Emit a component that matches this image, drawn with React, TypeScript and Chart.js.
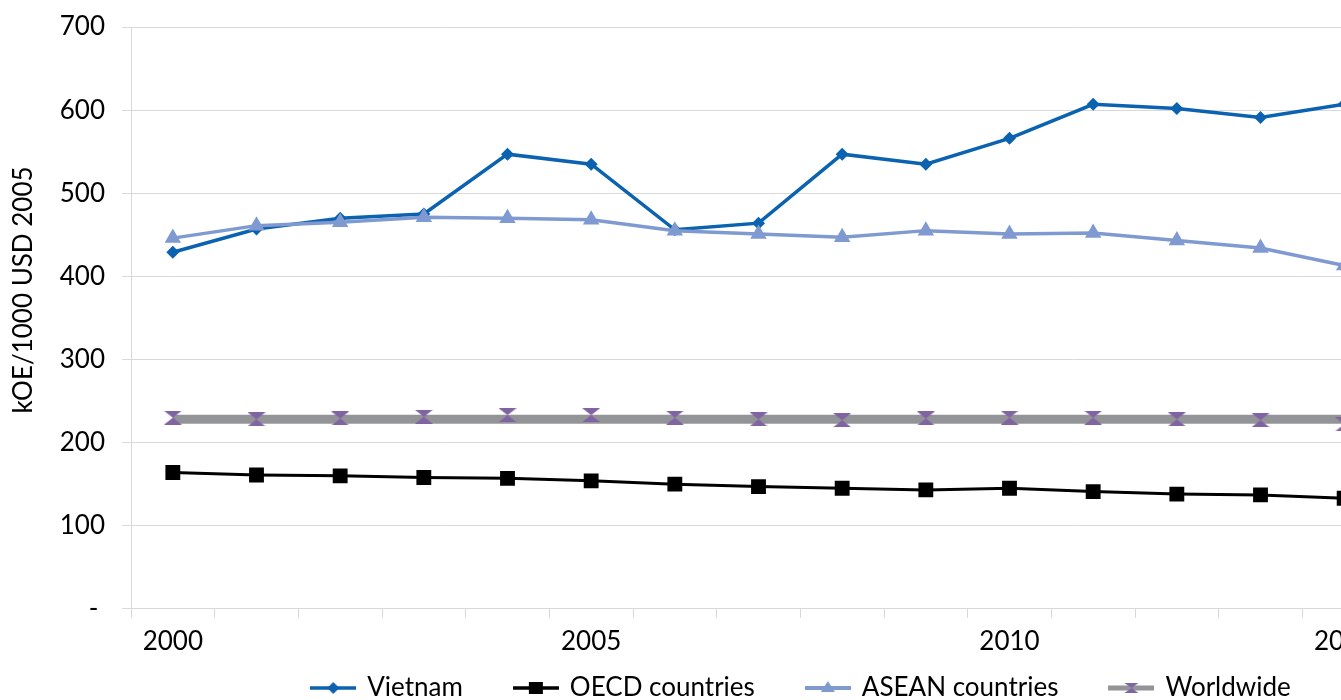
import React, { useEffect, useRef } from "react";
import { Chart, registerables } from "chart.js";

Chart.register(...registerables);

const years = ["2000","2001","2002","2003","2004","2005","2006","2007","2008","2009","2010","2011","2012","2013","2014"];
const xTickLabels = ["2000","","","","","2005","","","","","2010","","","","2014"];
const yTickValues = [0, 100, 200, 300, 400, 500, 600, 700];

const vietnam = [429, 457, 470, 475, 547, 535, 456, 464, 547, 535, 566, 607, 602, 591, 607];
const oecd = [164, 161, 160, 158, 157, 154, 150, 147, 145, 143, 145, 141, 138, 137, 133];
const asean = [446, 461, 465, 471, 470, 468, 455, 451, 447, 455, 451, 452, 443, 434, 413];
const worldwideLine = [228, 228, 228, 228, 228, 228, 228, 228, 228, 228, 228, 228, 228, 228, 228];
const worldwideMarkers = [230, 228, 229, 231, 233, 233, 230, 228, 227, 229, 230, 230, 228, 227, 222];

const seriesNames = ["Vietnam", "OECD countries", "ASEAN countries", "Worldwide"];
const yTitle = "kOE/1000 USD 2005";

const C_VN = "#0B62B0";
const C_OECD = "#000000";
const C_ASEAN = "#7F9AD0";
const C_WW = "#939498";
const C_WWM = "#8064A2";
const GRID = "#D9D9D9";
const FONT = "Lato";

function makeHourglass(w: number, h: number, color: string) {
  const c = document.createElement("canvas");
  c.width = w;
  c.height = h;
  const x = c.getContext("2d")!;
  x.fillStyle = color;
  x.beginPath();
  x.moveTo(0, 0);
  x.lineTo(w, 0);
  x.lineTo(w / 2, h / 2);
  x.closePath();
  x.fill();
  x.beginPath();
  x.moveTo(w / 2, h / 2);
  x.lineTo(0, h);
  x.lineTo(w, h);
  x.closePath();
  x.fill();
  return c;
}

function makeLegendIcon(kind: string) {
  const w = 46, h = 20;
  const c = document.createElement("canvas");
  c.width = w;
  c.height = h;
  const x = c.getContext("2d")!;
  const cy = h / 2;
  const cx = w / 2;
  if (kind === "vn") {
    x.strokeStyle = C_VN; x.lineWidth = 3.5;
    x.beginPath(); x.moveTo(0, cy); x.lineTo(w, cy); x.stroke();
    x.fillStyle = C_VN;
    x.beginPath(); x.moveTo(cx, cy - 6); x.lineTo(cx + 6, cy); x.lineTo(cx, cy + 6); x.lineTo(cx - 6, cy); x.closePath(); x.fill();
  } else if (kind === "oecd") {
    x.strokeStyle = C_OECD; x.lineWidth = 3.5;
    x.beginPath(); x.moveTo(0, cy); x.lineTo(w, cy); x.stroke();
    x.fillStyle = C_OECD;
    x.fillRect(cx - 7, cy - 6, 14, 12);
  } else if (kind === "asean") {
    x.strokeStyle = C_ASEAN; x.lineWidth = 4;
    x.beginPath(); x.moveTo(0, cy); x.lineTo(w, cy); x.stroke();
    x.fillStyle = C_ASEAN;
    x.beginPath(); x.moveTo(cx, cy - 7); x.lineTo(cx + 7, cy + 4); x.lineTo(cx - 7, cy + 4); x.closePath(); x.fill();
  } else {
    x.strokeStyle = C_WW; x.lineWidth = 5;
    x.beginPath(); x.moveTo(0, cy); x.lineTo(w, cy); x.stroke();
    const hg = makeHourglass(14, 10, C_WWM);
    x.drawImage(hg, cx - 7, cy - 5);
  }
  return c;
}

export default function App() {
  const ref = useRef<HTMLCanvasElement | null>(null);

  useEffect(() => {
    let chart: Chart | null = null;
    let cancelled = false;
    const build = () => {
      if (cancelled || !ref.current) return;
      const hourglass = makeHourglass(18, 14, C_WWM);
      const icons = [makeLegendIcon("vn"), makeLegendIcon("oecd"), makeLegendIcon("asean"), makeLegendIcon("ww")];

      const yTitlePlugin = {
        id: "yTitlePlugin",
        afterDraw(ch: any) {
          const ctx = ch.ctx;
          ctx.save();
          ctx.translate(24, 290);
          ctx.rotate(-Math.PI / 2);
          ctx.font = `26px ${FONT}`;
          ctx.fillStyle = "#000";
          ctx.textAlign = "center";
          ctx.textBaseline = "middle";
          ctx.fillText(yTitle, 0, 0);
          ctx.restore();
        },
      };

      const legendShiftPlugin = {
        id: "legendShiftPlugin",
        afterLayout(ch: any) {
          if (ch.legend) {
            ch.legend.top -= 42;
            ch.legend.bottom -= 42;
          }
        },
      };

      chart = new Chart(ref.current, {
        type: "line",
        data: {
          labels: years,
          datasets: [
            {
              label: seriesNames[0], data: vietnam, borderColor: C_VN, backgroundColor: C_VN,
              borderWidth: 3.5, pointStyle: "rectRot", pointRadius: 6.5, pointBorderWidth: 0, order: 4,
            },
            {
              label: seriesNames[1], data: oecd, borderColor: C_OECD, backgroundColor: C_OECD,
              borderWidth: 3, pointStyle: "rect", pointRadius: 10.5, pointBorderWidth: 0, order: 3,
            },
            {
              label: seriesNames[2], data: asean, borderColor: C_ASEAN, backgroundColor: C_ASEAN,
              borderWidth: 3.5, pointStyle: "triangle", pointRadius: 9.5, pointBorderWidth: 0, order: 2,
            },
            {
              label: seriesNames[3], data: worldwideLine, borderColor: C_WW, backgroundColor: C_WW,
              borderWidth: 9, pointRadius: 0, order: 1,
            },
            {
              label: seriesNames[3] + " markers", data: worldwideMarkers, showLine: false,
              pointStyle: hourglass as any, pointRadius: 9, order: 0,
            },
          ] as any,
        },
        options: {
          animation: false,
          responsive: false,
          maintainAspectRatio: false,
          devicePixelRatio: 1,
          layout: { padding: { left: 3, top: 27, right: 0, bottom: 0 } },
          elements: { line: { tension: 0 } },
          plugins: {
            tooltip: { enabled: false },
            legend: {
              position: "bottom",
              labels: {
                usePointStyle: true,
                pointStyleWidth: 42,
                padding: 52,
                color: "#000",
                font: { family: FONT, size: 26 },
                generateLabels: () =>
                  seriesNames.map((t, i) => ({
                    text: t,
                    pointStyle: icons[i] as any,
                    fillStyle: "rgba(0,0,0,0)",
                    strokeStyle: "rgba(0,0,0,0)",
                    lineWidth: 0,
                    hidden: false,
                    datasetIndex: i,
                  })),
              },
            },
          },
          scales: {
            x: {
              type: "category",
              offset: true,
              grid: { display: true, drawOnChartArea: false, offset: true, tickLength: 9, color: GRID },
              border: { display: true, color: GRID },
              ticks: {
                autoSkip: false, maxRotation: 0, padding: 8, color: "#000",
                font: { family: FONT, size: 26 },
                callback: (_v: any, i: number) => xTickLabels[i],
              },
            },
            y: {
              type: "linear",
              min: 0,
              max: 700,
              afterBuildTicks: (s: any) => { s.ticks = yTickValues.map((v) => ({ value: v })); },
              afterFit: (s: any) => { s.width = 128; s.paddingTop = 0; s.paddingBottom = 0; },
              grid: { color: GRID, tickLength: 9 },
              border: { display: true, color: GRID },
              ticks: {
                padding: 17, color: "#000",
                font: { family: FONT, size: 26 },
                callback: (v: any) => (v === 0 ? "- " : String(v)),
              },
            },
            y2: {
              type: "linear",
              position: "right",
              display: true,
              grid: { display: false },
              border: { display: false },
              ticks: { display: false },
              afterFit: (s: any) => { s.width = 214; },
            },
          },
        } as any,
        plugins: [yTitlePlugin, legendShiftPlugin],
      });
    };
    const fonts: any = (document as any).fonts;
    if (fonts && fonts.load) {
      fonts.load(`26px ${FONT}`).then(build, build);
    } else {
      build();
    }
    return () => {
      cancelled = true;
      if (chart) chart.destroy();
    };
  }, []);

  return (
    <div style={{ position: "absolute", left: 0, top: 0, width: 1341, height: 700, overflow: "hidden", background: "#fff" }}>
      <canvas ref={ref} width={1600} height={753} style={{ display: "block", width: 1600, height: 753 }} />
    </div>
  );
}
